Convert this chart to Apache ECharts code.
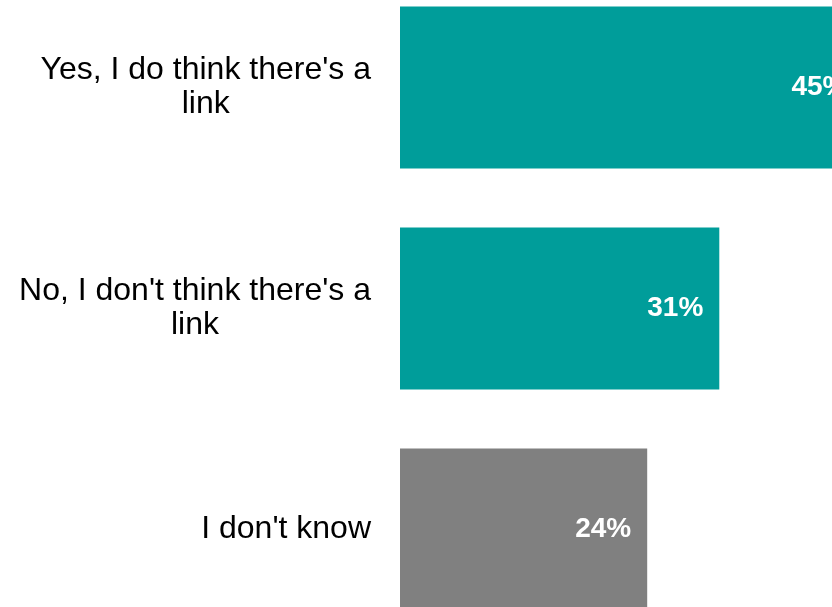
<!DOCTYPE html>
<html>
<head>
<meta charset="utf-8">
<title>Is there a link?</title>
<script src="https://cdn.jsdelivr.net/npm/echarts@6/dist/echarts.min.js"></script>
<style>
  html, body { margin: 0; padding: 0; background: #ffffff; }
  #chart { width: 832px; height: 607px; }
</style>
</head>
<body>
<div id="chart"></div>
<script>
// Survey answers, top to bottom
const categories = [
  "Yes, I do think there's a link",
  "No, I don't think there's a link",
  "I don't know"
];
const shares = [45, 31, 24];
const barColors = ['#009d9a', '#009d9a', '#808080'];

// Wrap a label into lines of at most maxChars characters
function wrap(text, maxChars) {
  const words = text.split(' ');
  const lines = [];
  let line = '';
  words.forEach(function (w) {
    const next = line ? line + ' ' + w : w;
    if (next.length > maxChars && line) {
      lines.push(line);
      line = w;
    } else {
      line = next;
    }
  });
  if (line) lines.push(line);
  return lines;
}

const chart = echarts.init(document.getElementById('chart'));
chart.setOption({
  animation: false,
  grid: {
    left: 400, top: -23, width: 515, height: 663,
    containLabel: false,
    outerBoundsMode: 'none'
  },
  xAxis: {
    type: 'value',
    min: 0,
    max: 50,
    show: false
  },
  yAxis: {
    type: 'category',
    inverse: true,
    data: categories,
    axisLine: { show: false },
    axisTick: { show: false },
    splitLine: { show: false },
    axisLabel: {
      margin: 29,
      align: 'right',
      formatter: function (v) {
        return wrap(v, 28).map(function (l) { return '{c|' + l + '}'; }).join('\n');
      },
      rich: {
        c: {
          align: 'center',
          fontFamily: 'Liberation Sans, Arial, sans-serif',
          fontSize: 32,
          lineHeight: 34,
          color: '#000000'
        }
      }
    }
  },
  series: [{
    type: 'bar',
    barWidth: 162,
    data: shares.map(function (v, i) {
      return { value: v, itemStyle: { color: barColors[i] } };
    }),
    label: {
      show: true,
      position: 'insideRight',
      distance: 16,
      formatter: '{c}%',
      color: '#ffffff',
      fontFamily: 'Liberation Sans, Arial, sans-serif',
      fontWeight: 'bold',
      fontSize: 28
    }
  }]
});
</script>
</body>
</html>
